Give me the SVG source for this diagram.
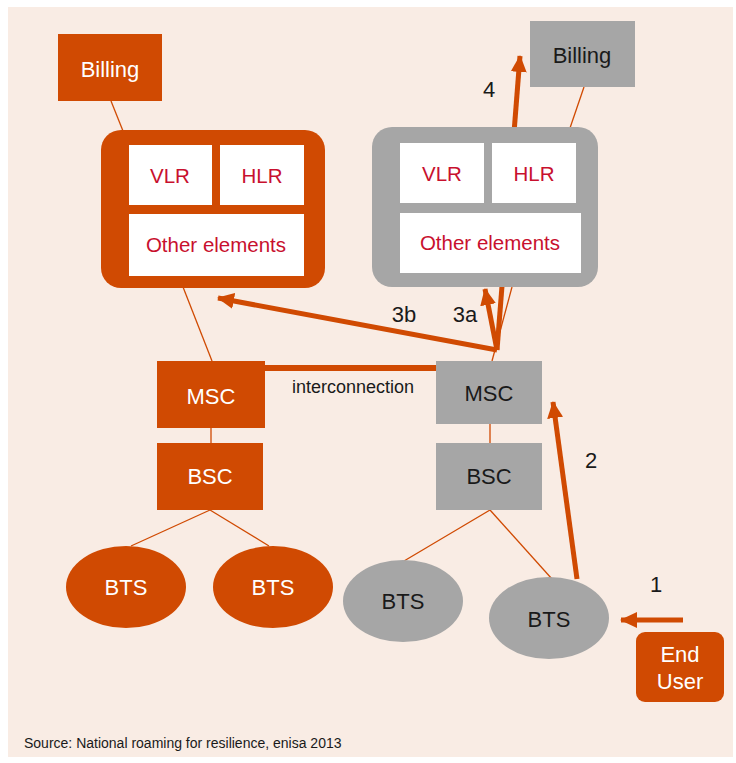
<svg xmlns="http://www.w3.org/2000/svg" width="736" height="763" viewBox="0 0 736 763">
<defs>
<style>
.or{fill:#D04A02}
.gy{fill:#A6A6A6}
.wh{fill:#FFFFFF}
.t{font-family:"Liberation Sans",Arial,sans-serif;text-anchor:middle}
.tw{fill:#FFFFFF;font-size:22px}
.td{fill:#1A1A1A;font-size:22px}
.tr{fill:#C8102E;font-size:20.5px}
.lbl{font-family:"Liberation Sans",Arial,sans-serif;fill:#1A1A1A;font-size:22px;text-anchor:middle}
.thin{stroke:#D04A02;stroke-width:1.3;fill:none}
.arr{stroke:#D04A02;stroke-width:5;fill:none;marker-end:url(#ah)}
</style>
<marker id="ah" markerUnits="userSpaceOnUse" markerWidth="18" markerHeight="16" refX="16" refY="8" orient="auto" viewBox="0 0 18 16">
<path d="M0,0 L17,8 L0,16 Z" fill="#D04A02"/>
</marker>
</defs>
<rect x="0" y="0" width="736" height="763" fill="#FFFFFF"/>
<rect x="8" y="7" width="725" height="750" fill="#F9ECE4"/>

<g id="connectors">
<line class="thin" x1="111" y1="101" x2="123" y2="131"/>
<line class="thin" x1="584" y1="87" x2="570" y2="128"/>
<line class="thin" x1="183" y1="287" x2="212" y2="361"/>
<line class="thin" x1="211" y1="428" x2="211" y2="443"/>
<line class="thin" x1="490" y1="424" x2="490" y2="443"/>
<line class="thin" x1="492" y1="361" x2="512" y2="287"/>
<line class="thin" x1="210" y1="510" x2="131" y2="546"/>
<line class="thin" x1="210" y1="510" x2="269" y2="546"/>
<line class="thin" x1="490" y1="510" x2="404" y2="561"/>
<line class="thin" x1="490" y1="510" x2="552" y2="579"/>
<line x1="265" y1="368" x2="436" y2="368" stroke="#D04A02" stroke-width="6"/>
<line class="arr" x1="497" y1="350" x2="218" y2="298"/>
<line class="arr" x1="497" y1="350" x2="485" y2="289"/>
<line class="arr" x1="497" y1="350" x2="520" y2="56"/>
<line class="arr" x1="577" y1="579" x2="553" y2="402"/>
<line class="arr" x1="683" y1="620" x2="621" y2="620"/>
<text class="lbl" x="404" y="322">3b</text>
<text class="lbl" x="465" y="322">3a</text>
<text class="lbl" x="489" y="97">4</text>
<text class="lbl" x="591" y="468">2</text>
<text class="lbl" x="656" y="592">1</text>
<text x="353" y="393" font-family="'Liberation Sans',Arial,sans-serif" font-size="18" fill="#1A1A1A" text-anchor="middle">interconnection</text>
</g>

<g id="billing-left">
<rect class="or" x="58" y="34" width="104" height="67"/>
<text class="t tw" x="110" y="77">Billing</text>
</g>
<g id="core-left">
<rect class="or" x="101" y="130" width="224" height="158" rx="20"/>
<rect class="wh" x="129" y="145" width="83" height="60"/>
<rect class="wh" x="220" y="145" width="84" height="60"/>
<rect class="wh" x="129" y="214" width="175" height="62"/>
<text class="t tr" x="170" y="183">VLR</text>
<text class="t tr" x="262" y="183">HLR</text>
<text class="t tr" x="216" y="252">Other elements</text>
</g>
<g id="billing-right">
<rect class="gy" x="530" y="21" width="105" height="66"/>
<text class="t td" x="582" y="63">Billing</text>
</g>
<g id="core-right">
<rect class="gy" x="372" y="127" width="226" height="160" rx="20"/>
<rect class="wh" x="400" y="143" width="84" height="60"/>
<rect class="wh" x="492" y="143" width="84" height="60"/>
<rect class="wh" x="400" y="213" width="181" height="60"/>
<text class="t tr" x="442" y="181">VLR</text>
<text class="t tr" x="534" y="181">HLR</text>
<text class="t tr" x="490" y="250">Other elements</text>
</g>
<g id="msc-left">
<rect class="or" x="157" y="361" width="108" height="67"/>
<text class="t tw" x="211" y="404">MSC</text>
</g>
<g id="bsc-left">
<rect class="or" x="157" y="443" width="106" height="67"/>
<text class="t tw" x="210" y="484">BSC</text>
</g>
<g id="msc-right">
<rect class="gy" x="436" y="361" width="106" height="63"/>
<text class="t td" x="489" y="401">MSC</text>
</g>
<g id="bsc-right">
<rect class="gy" x="436" y="443" width="106" height="67"/>
<text class="t td" x="489" y="484">BSC</text>
</g>
<g id="bts-1">
<ellipse class="or" cx="126" cy="587" rx="60" ry="41"/>
<text class="t tw" x="126" y="595">BTS</text>
</g>
<g id="bts-2">
<ellipse class="or" cx="273" cy="587" rx="60" ry="41"/>
<text class="t tw" x="273" y="595">BTS</text>
</g>
<g id="bts-3">
<ellipse class="gy" cx="403" cy="601" rx="60" ry="41"/>
<text class="t td" x="403" y="609">BTS</text>
</g>
<g id="bts-4">
<ellipse class="gy" cx="549" cy="618" rx="60" ry="41"/>
<text class="t td" x="549" y="627">BTS</text>
</g>
<g id="end-user">
<rect class="or" x="636" y="632" width="88" height="70" rx="9"/>
<text class="t tw" x="680" y="662">End</text>
<text class="t tw" x="680" y="689">User</text>
</g>
<text x="24" y="748" font-family="'Liberation Sans',Arial,sans-serif" font-size="14" fill="#1A1A1A">Source: National roaming for resilience, enisa 2013</text>
</svg>
